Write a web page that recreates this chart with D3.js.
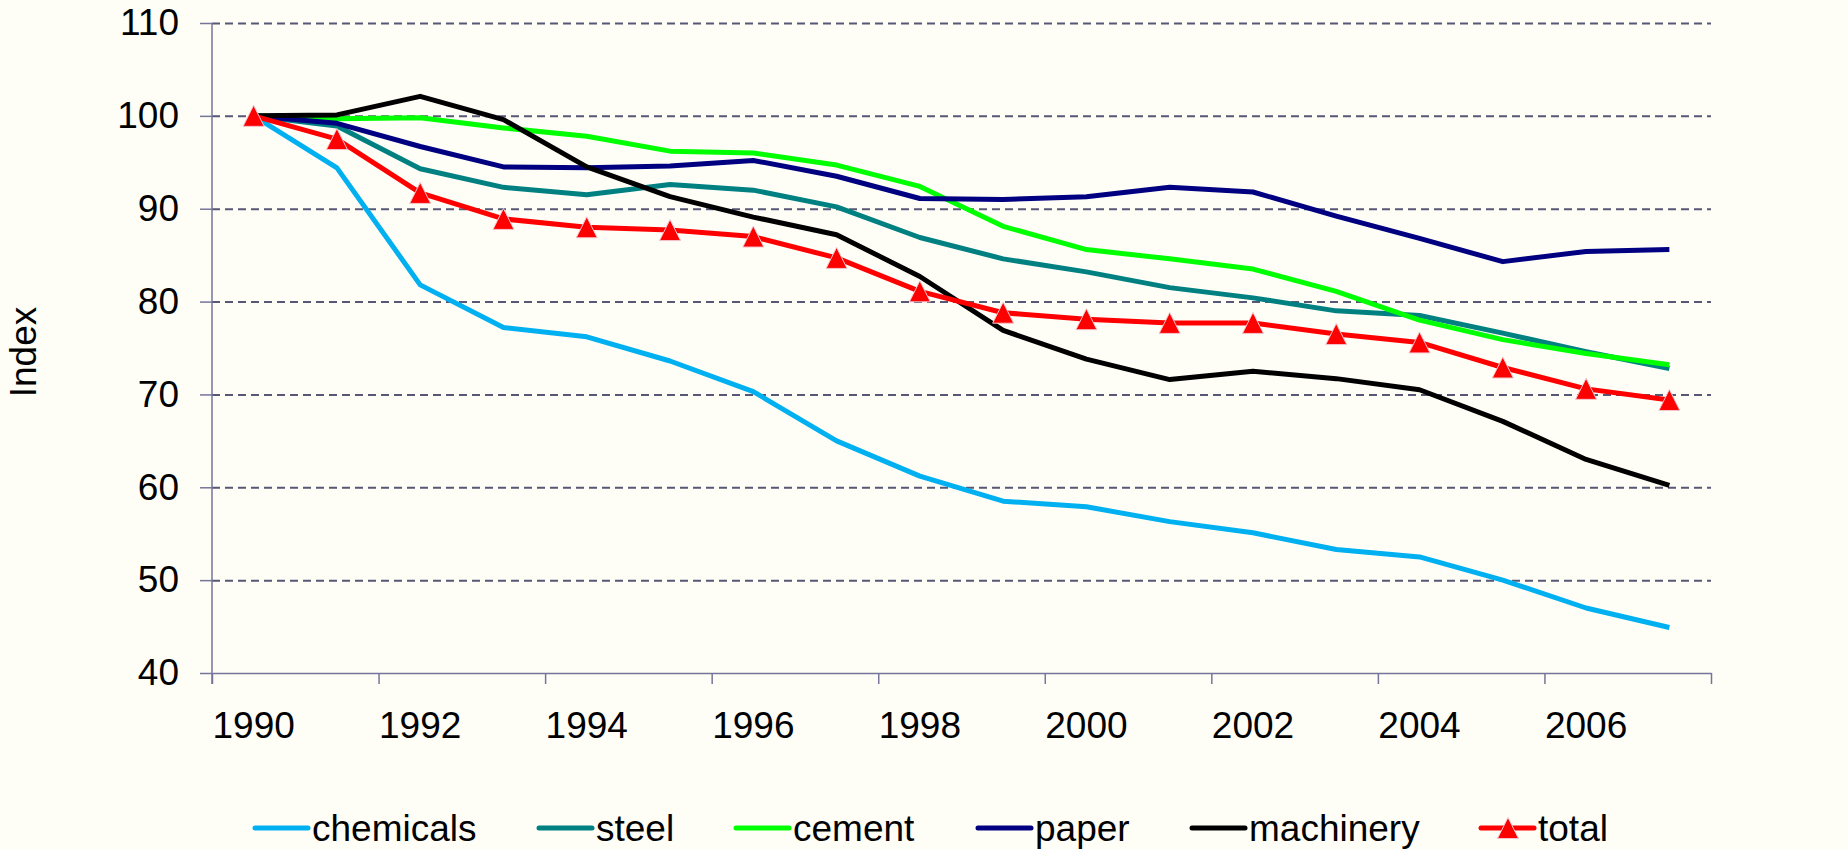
<!DOCTYPE html>
<html>
<head>
<meta charset="utf-8">
<script src="https://cdn.jsdelivr.net/npm/d3@7"></script>
<style>
	html, body {margin: 0; padding: 0; background: #fefef7;}
	svg {display: block; font-family: "Liberation Sans", Arial, sans-serif;}
	.label {font-size: 37px; fill: #000;}
</style>
</head>
<body>
<svg width="1848" height="849"></svg>
<script>
let years = [1990, 1991, 1992, 1993, 1994, 1995, 1996, 1997, 1998, 1999, 2000, 2001, 2002, 2003, 2004, 2005, 2006, 2007];
let yTicks = [40, 50, 60, 70, 80, 90, 100, 110];

let chemicals = [100, 94.4, 81.8, 77.2, 76.2, 73.6, 70.3, 65.0, 61.2, 58.5, 57.9, 56.3, 55.1, 53.3, 52.5, 50.0, 47.0, 44.9];
let steel = [100, 98.9, 94.3, 92.3, 91.5, 92.6, 92.0, 90.2, 86.9, 84.6, 83.2, 81.5, 80.4, 79.0, 78.5, 76.6, 74.6, 72.8];
let cement = [100, 99.7, 99.8, 98.7, 97.8, 96.2, 96.0, 94.7, 92.4, 88.1, 85.6, 84.6, 83.5, 81.1, 78.0, 75.9, 74.4, 73.2];
let paper = [100, 99.2, 96.7, 94.5, 94.4, 94.6, 95.2, 93.5, 91.1, 91.0, 91.3, 92.3, 91.8, 89.2, 86.8, 84.3, 85.4, 85.6];
let machinery = [100, 100.1, 102.1, 99.6, 94.5, 91.3, 89.1, 87.2, 82.7, 76.9, 73.8, 71.6, 72.5, 71.7, 70.5, 67.1, 63.0, 60.2];
let total = [100, 97.5, 91.7, 88.9, 88.0, 87.7, 87.0, 84.7, 81.1, 78.8, 78.1, 77.7, 77.7, 76.5, 75.6, 72.9, 70.6, 69.4];

let seriesNames = ["chemicals", "steel", "cement", "paper", "machinery", "total"];
let seriesValues = [chemicals, steel, cement, paper, machinery, total];
let seriesColors = ["#00b0f0", "#008080", "#00ff00", "#000080", "#000000", "#ff0000"];

let svg = d3.select("svg");
let margin = {top: 23, right: 137, bottom: 176, left: 212};
let width = 1848 - margin.left - margin.right;
let height = 849 - margin.top - margin.bottom;
let canvas = svg.append("g").attr("transform", "translate(" + margin.left + "," + margin.top + ")");

let xscale = d3.scaleBand().domain(years).range([0, width]).padding(0);
let xbound = d3.scaleLinear().domain([0, years.length]).range([0, width]);
let yscale = d3.scaleLinear().domain([40, 110]).range([height, 0]);
let xc = function(yr) {return xscale(yr) + xscale.bandwidth() / 2;};

//Gitterlinien
let grid = canvas.append("g")
	.attr("class", "grid")
	.call(d3.axisLeft(yscale).tickValues(yTicks.slice(1)).tickSize(-width).tickFormat(""));
grid.select(".domain").remove();
grid.selectAll("line")
	.attr("stroke", "#575776")
	.attr("stroke-width", 2)
	.attr("stroke-dasharray", "8,5");

//y-Achse
let yaxis = canvas.append("g")
	.attr("class", "axis axis-y")
	.call(d3.axisLeft(yscale).tickValues(yTicks).tickSize(12).tickPadding(21).tickSizeOuter(0));
yaxis.select(".domain").attr("stroke", "#75759a").attr("stroke-width", 1.5)
	.attr("d", "M0," + (height + 11) + "V0");
yaxis.selectAll("line").attr("stroke", "#75759a").attr("stroke-width", 1.5);
yaxis.selectAll("text").attr("class", "label").attr("font-family", null).attr("font-size", null);

//x-Achse (Striche an Kategoriegrenzen)
let xaxis = canvas.append("g")
	.attr("class", "axis axis-x")
	.attr("transform", "translate(0," + height + ")")
	.call(d3.axisBottom(xbound).tickValues(d3.range(0, years.length + 1, 2)).tickSize(11).tickFormat("").tickSizeOuter(0));
xaxis.select(".domain").attr("stroke", "#75759a").attr("stroke-width", 1.5);
xaxis.selectAll("line").attr("stroke", "#75759a").attr("stroke-width", 1.5);

//x-Beschriftungen
let xlabels = canvas.append("g")
	.attr("transform", "translate(0," + height + ")")
	.call(d3.axisBottom(xscale).tickValues(years.filter(function(d) {return d % 2 == 0;})).tickSize(0).tickPadding(39));
xlabels.select(".domain").remove();
xlabels.selectAll("text").attr("class", "label").attr("font-family", null).attr("font-size", null);

//Achsenbeschriftung y-Achse
svg.append("text")
	.attr("class", "label")
	.attr("text-anchor", "middle")
	.attr("transform", "translate(36,352)rotate(-90)")
	.text("Index");

//Linien
let line = d3.line()
	.x(function(d, i) {return xc(years[i]);})
	.y(function(d) {return yscale(d);});

//Dreieck so breit wie hoch
let excelTriangle = {
	draw: function(context, size) {
		let h = Math.sqrt(size) / 2;
		context.moveTo(0, -h);
		context.lineTo(h, h);
		context.lineTo(-h, h);
		context.closePath();
	}
};
let triangle = d3.symbol().type(excelTriangle).size(440);

seriesValues.forEach(function(vals, k) {
	canvas.append("path")
		.datum(vals)
		.attr("fill", "none")
		.attr("stroke", seriesColors[k])
		.attr("stroke-width", 5)
		.attr("stroke-linejoin", "round")
		.attr("d", line);
});

canvas.selectAll(".datapoint")
	.data(total)
	.enter()
	.append("path")
		.attr("class", "datapoint")
		.attr("d", triangle)
		.attr("fill", "#ff0000")
		.attr("stroke", "#f2c4cc")
		.attr("stroke-width", 1)
		.attr("transform", function(d, i) {return "translate(" + xc(years[i]) + "," + yscale(d) + ")";});

//Legende
let legendX = [255, 539, 736, 978, 1192, 1481];
let legend = svg.append("g").attr("class", "legend");
seriesNames.forEach(function(name, k) {
	let g = legend.append("g").attr("transform", "translate(" + legendX[k] + ",828)");
	g.append("line")
		.attr("x1", 0).attr("x2", 53)
		.attr("stroke", seriesColors[k])
		.attr("stroke-width", 5)
		.attr("stroke-linecap", "round");
	if (name == "total") {
		g.append("path")
			.attr("d", triangle)
			.attr("fill", "#ff0000")
			.attr("stroke", "#f2c4cc")
			.attr("stroke-width", 1)
			.attr("transform", "translate(27,0)");
	}
	g.append("text")
		.attr("class", "label")
		.attr("x", 57)
		.attr("y", 13)
		.text(name);
});
</script>
</body>
</html>
